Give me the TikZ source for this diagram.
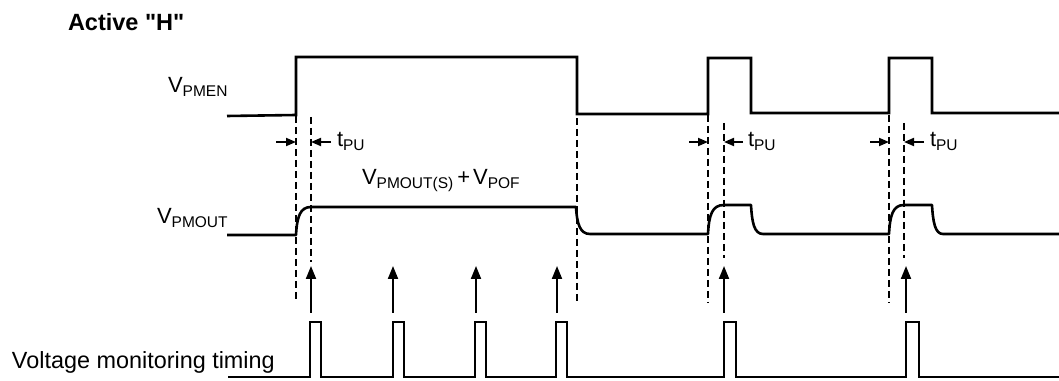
\documentclass[tikz,border=0pt]{standalone}
\usepackage{fontspec}
\setmainfont{Liberation Sans}[Ligatures=TeXOff]
\usetikzlibrary{arrows.meta}
\newcommand{\sigsub}[1]{\raisebox{-3.5pt}{\fontsize{15.5}{15.5}\selectfont #1}}

\begin{document}
\begin{tikzpicture}[x=1pt,y=1pt]
\definecolor{fillColor}{RGB}{255,255,255}
\definecolor{drawColor}{RGB}{0,0,0}
\tikzset{
  wave/.style={draw=drawColor,line width=2.6pt,line join=miter},
  guide/.style={draw=drawColor,line width=1.5pt,dash pattern=on 7pt off 4pt},
  sampleArrow/.style={draw=drawColor,line width=2pt,-{Triangle[length=13pt,width=10pt]}},
  tpuArrow/.style={draw=drawColor,line width=1.8pt,-{Triangle[length=10pt,width=8pt]}},
  label/.style={text=drawColor,anchor=base west,inner sep=0pt,outer sep=0pt,font=\fontsize{22}{22}\selectfont}
}
\path[use as bounding box,fill=fillColor] (0,0) rectangle (1059,380);

\node[label,font=\bfseries\fontsize{23.5}{23.5}\selectfont] (activeH) at ( 68,349) {Active "H"};
\node[label] (lblPMEN) at (168,287) {V\sigsub{PMEN}};
\node[label] (lblPMOUT) at (157,156) {V\sigsub{PMOUT}};
\node[label] (lblLevel) at (362,195) {V\sigsub{PMOUT(S)}\hspace{4pt}+\hspace{3pt}V\sigsub{POF}};
\node[label,font=\fontsize{23.4}{23.4}\selectfont] (lblMon) at ( 12, 12) {Voltage monitoring timing};

\path[wave] (227,264) -- (296,265) -- (296,323) -- (577,323) -- (577,266) --
	(708,266) -- (708,322) -- (751,322) -- (751,267) --
	(889,267) -- (889,322) -- (932,322) -- (932,267) -- (1059,267);

\path[wave,line join=round] (227,145) -- (296,145) .. controls (297,163) and (300,173) .. (311,173) --
	(576,173) .. controls (577,156) and (580,146) .. (590,146) --
	(708,146) .. controls (709,165) and (712,175) .. (724,175) --
	(751,175) .. controls (752,158) and (754,146) .. (763,146) --
	(889,146) .. controls (890,165) and (893,175) .. (904,175) --
	(932,175) .. controls (933,158) and (935,146) .. (943,146) -- (1059,146);

\path[wave] (228,3) -- (310,3) -- (310,58) -- (321,58) -- (321,3) --
	(393,3) -- (393,58) -- (404,58) -- (404,3) --
	(475,3) -- (475,58) -- (486,58) -- (486,3) --
	(556,3) -- (556,58) -- (567,58) -- (567,3) --
	(724,3) -- (724,58) -- (736,58) -- (736,3) --
	(906,3) -- (906,58) -- (919,58) -- (919,3) -- (1059,3);

\path[guide] (296,264) -- (296,78);
\path[guide] (311,263) -- (311,118);
\path[guide] (577,262) -- (577,78);
\path[guide] (708,265) -- (708,77);
\path[guide] (724,257) -- (724,122);
\path[guide] (889,265) -- (889,77);
\path[guide] (904,257) -- (904,122);

\foreach \x in {311,393,476,557,724,906}{
  \coordinate (tail\x) at (\x, 67);
  \coordinate (tip\x) at (\x,114);
  \path[sampleArrow] (tail\x) -- (tip\x);
}

\foreach \a/\b/\c/\d/\t in {276/296/331/311/337,689/708/743/724/748,870/889/924/904/930}{
  \coordinate (puA\a) at (\a,238);
  \coordinate (puB\a) at (\b,238);
  \coordinate (puC\a) at (\c,238);
  \coordinate (puD\a) at (\d,238);
  \path[tpuArrow] (puA\a) -- (puB\a);
  \path[tpuArrow] (puC\a) -- (puD\a);
  \node[label] (tpu\a) at (\t,233) {t\sigsub{PU}};
}
\end{tikzpicture}
\end{document}
